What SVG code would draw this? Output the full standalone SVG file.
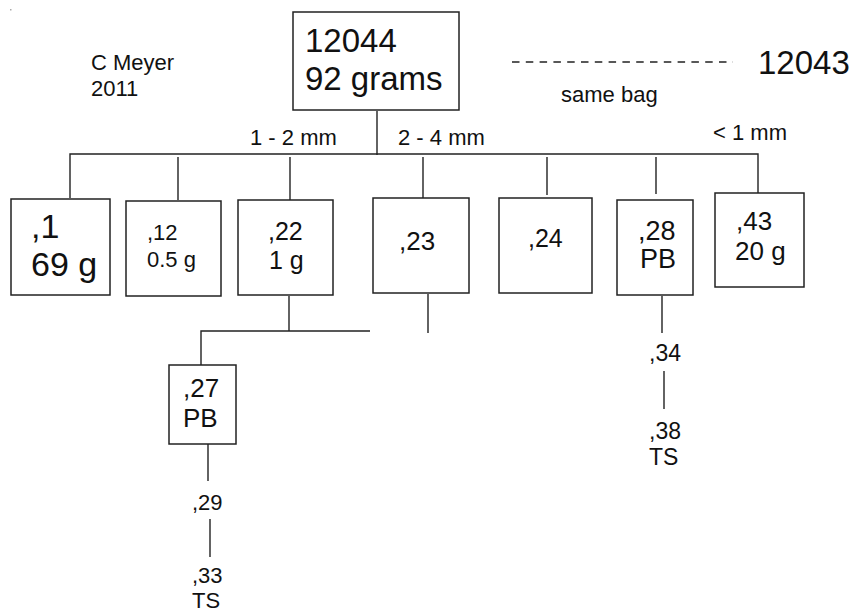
<svg xmlns="http://www.w3.org/2000/svg" width="854" height="614" viewBox="0 0 854 614">
<style>
text{font-family:"Liberation Sans",Arial,sans-serif;fill:#111}
.box{fill:#fff;stroke:#222;stroke-width:1.5}
.ln{stroke:#222;stroke-width:1.4;fill:none}
</style>
<rect width="854" height="614" fill="#fff"/>
<rect x="10" y="9" width="1.5" height="1.5" fill="#aaa"/>
<g id="author">
<text x="91" y="70" font-size="22">C Meyer</text>
<text x="91" y="96" font-size="22">2011</text>
</g>
<g id="connectors">
<line class="ln" x1="377" y1="111" x2="377" y2="155"/>
<polyline class="ln" points="70,198 70,154 758,154 758,193"/>
<line class="ln" x1="178" y1="157" x2="178" y2="200"/>
<line class="ln" x1="290" y1="157" x2="290" y2="200"/>
<line class="ln" x1="423" y1="157" x2="423" y2="198"/>
<line class="ln" x1="547" y1="157" x2="547" y2="195"/>
<line class="ln" x1="656" y1="157" x2="656" y2="194"/>
<line class="ln" x1="289" y1="296" x2="289" y2="331"/>
<polyline class="ln" points="201,365 201,331 370,331"/>
<line class="ln" x1="428" y1="294" x2="428" y2="333"/>
<line class="ln" x1="662" y1="296" x2="662" y2="333"/>
<line class="ln" x1="664" y1="371" x2="664" y2="409"/>
<line class="ln" x1="208" y1="442" x2="208" y2="481"/>
<line class="ln" x1="210" y1="519" x2="210" y2="557"/>
<line class="ln" x1="512" y1="62" x2="733" y2="62" stroke-dasharray="7.5 6.3"/>
</g>
<g id="labels">
<text x="250" y="145" font-size="22">1 - 2 mm</text>
<text x="398" y="145" font-size="22">2 - 4 mm</text>
<text x="713" y="140" font-size="22">&lt; 1 mm</text>
<text x="561" y="102" font-size="22">same bag</text>
<text x="758" y="74" font-size="33">12043</text>
</g>
<g id="n12044">
<rect class="box" x="293" y="12" width="166" height="98"/>
<text x="305" y="52" font-size="33">12044</text>
<text x="305" y="90" font-size="33">92 grams</text>
</g>
<g id="n1">
<rect class="box" x="11" y="199" width="99" height="96"/>
<text x="31" y="238" font-size="34">,1</text>
<text x="31" y="276" font-size="34">69 g</text>
</g>
<g id="n12">
<rect class="box" x="126" y="201" width="95" height="95"/>
<text x="147" y="240" font-size="22">,12</text>
<text x="147" y="267" font-size="22">0.5 g</text>
</g>
<g id="n22">
<rect class="box" x="238" y="200" width="95" height="95"/>
<text x="268" y="240" font-size="25">,22</text>
<text x="269" y="269" font-size="25">1 g</text>
</g>
<g id="n23">
<rect class="box" x="373" y="198" width="96" height="95"/>
<text x="399" y="250" font-size="26">,23</text>
</g>
<g id="n24">
<rect class="box" x="499" y="198" width="93" height="95"/>
<text x="528" y="247" font-size="25">,24</text>
</g>
<g id="n28">
<rect class="box" x="617" y="200" width="76" height="95"/>
<text x="638" y="240" font-size="27">,28</text>
<text x="640" y="268" font-size="27">PB</text>
</g>
<g id="n43">
<rect class="box" x="715" y="193" width="89" height="94"/>
<text x="736" y="230" font-size="26">,43</text>
<text x="735" y="260" font-size="26">20 g</text>
</g>
<g id="n27">
<rect class="box" x="169" y="365" width="67" height="79"/>
<text x="183" y="397" font-size="26">,27</text>
<text x="183" y="427" font-size="26">PB</text>
</g>
<g id="n34">
<text x="649" y="361" font-size="23">,34</text>
</g>
<g id="n38">
<text x="649" y="439" font-size="23">,38</text>
<text x="649" y="465" font-size="23">TS</text>
</g>
<g id="n29">
<text x="192" y="510" font-size="22">,29</text>
</g>
<g id="n33">
<text x="192" y="583" font-size="22">,33</text>
<text x="192" y="608" font-size="22">TS</text>
</g>
</svg>
